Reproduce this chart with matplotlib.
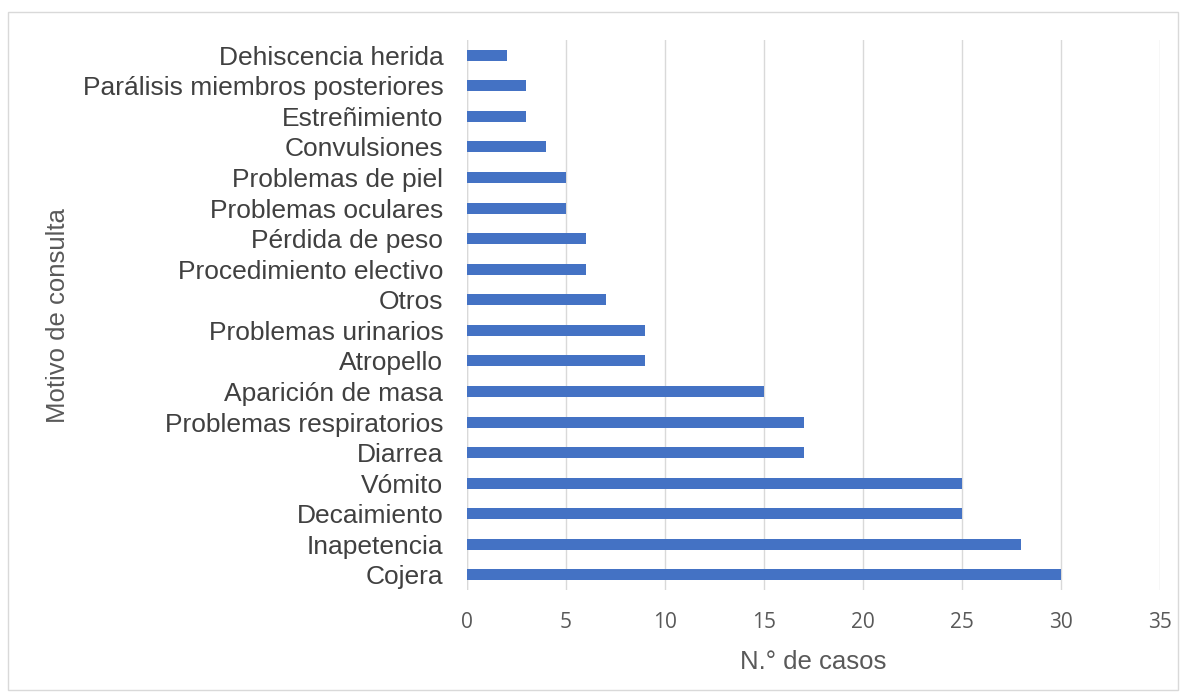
import matplotlib
matplotlib.use("Agg")
import matplotlib.pyplot as plt
from matplotlib.patches import Rectangle

categories = ["Cojera", "Inapetencia", "Decaimiento", "Vómito", "Diarrea",
              "Problemas respiratorios", "Aparición de masa", "Atropello",
              "Problemas urinarios", "Otros", "Procedimiento electivo",
              "Pérdida de peso", "Problemas oculares", "Problemas de piel",
              "Convulsiones", "Estreñimiento", "Parálisis miembros posteriores",
              "Dehiscencia herida"]
values = [30, 28, 25, 25, 17, 17, 15, 9, 9, 7, 6, 6, 5, 5, 4, 3, 3, 2]
xticks = [0, 5, 10, 15, 20, 25, 30, 35]

fig = plt.figure(figsize=(11.87, 7.0), dpi=100)
ax = fig.add_axes([0.3934, 0.157, 0.9773 - 0.3934, 0.9429 - 0.157])

y = list(range(len(categories)))
ax.barh(y, values, height=0.36, color="#4472C4", zorder=3)
ax.set_ylim(-0.5, len(categories) - 0.5)
ax.set_xlim(0, 35)
ax.set_xticks(xticks)
ax.set_yticks(y)
ax.set_yticklabels(categories, fontsize=19, color="#404040", family="Liberation Sans")
ax.set_xticklabels([str(t) for t in xticks], fontsize=15, color="#595959", family="Open Sans")
ax.grid(axis="x", color="#d9d9d9", linewidth=1, zorder=0)
for s in ax.spines.values():
    s.set_visible(False)
ax.axvline(0, color="#d9d9d9", linewidth=1, zorder=1)
ax.tick_params(axis="both", length=0)
ax.tick_params(axis="x", pad=16)
ax.tick_params(axis="y", pad=17)
ax.set_xlabel("N.° de casos", fontsize=18.5, color="#595959", family="Liberation Sans", labelpad=12)
fig.text(58 / 1187, 1 - 316 / 700, "Motivo de consulta", rotation=90, ha="center", va="center",
         fontsize=18.5, color="#595959", family="Liberation Sans")

fig.patches.append(Rectangle((8 / 1187, 1 - 690 / 700), (1178 - 8) / 1187, (690 - 12) / 700,
                             transform=fig.transFigure, fill=False, edgecolor="#d9d9d9", linewidth=1))

fig.savefig("out.png", dpi=100)
